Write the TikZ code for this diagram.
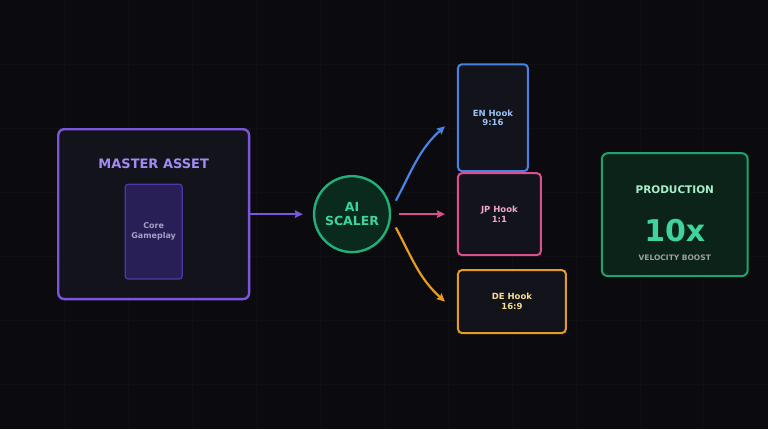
\documentclass[tikz,border=0pt]{standalone}
\usepackage{fontspec}
\setmainfont{DejaVu Sans}
\usepackage{xcolor}
\usetikzlibrary{positioning, arrows.meta}

\definecolor{bgdark}{HTML}{0B0B0F}
\definecolor{gridc}{HTML}{0F0F14}
\definecolor{panelfill}{HTML}{13131C}
\definecolor{masterpurple}{HTML}{7B55DE}
\definecolor{titlepurple}{HTML}{A48AF2}
\definecolor{corefill}{HTML}{271F55}
\definecolor{coreline}{HTML}{4F38A6}
\definecolor{coretext}{HTML}{A6A0C6}
\definecolor{scalerfill}{HTML}{0A2A1E}
\definecolor{scalergreen}{HTML}{22B07A}
\definecolor{scalertext}{HTML}{3DD59C}
\definecolor{enblue}{HTML}{4A82E0}
\definecolor{entext}{HTML}{9CC2F5}
\definecolor{jppink}{HTML}{D9508C}
\definecolor{jptext}{HTML}{F2A6CD}
\definecolor{deorange}{HTML}{E59C25}
\definecolor{detext}{HTML}{F6DE8E}
\definecolor{prodfill}{HTML}{0B2319}
\definecolor{prodline}{HTML}{1FA36E}
\definecolor{prodtitle}{HTML}{A9EFCC}
\definecolor{prodgrey}{HTML}{9AA3A0}

\begin{document}
\begin{tikzpicture}[
      x=1pt, y=-1pt,
      panel/.style={draw, rounded corners=6pt, line width=2.4pt, fill=panelfill},
      hook/.style={draw, rounded corners=4pt, line width=2pt, fill=panelfill, align=center,
        font=\fontsize{8.5}{9.5}\selectfont\bfseries},
      label/.style={font=\bfseries, inner sep=0pt},
      arr/.style={line width=2.2pt, -{Stealth[length=8pt, width=7.5pt, inset=1pt]}},
      gridline/.style={gridc, line width=0.6pt}
    ]
    % Background
    \fill[bgdark] (0,0) rectangle (768,429);
    \foreach \gx in {64,128,...,704} \draw[gridline] (\gx,0) -- (\gx,429);
    \foreach \gy in {64,128,...,384} \draw[gridline] (0,\gy) -- (768,\gy);
    \useasboundingbox (0,0) rectangle (768,429);

    % Nodes
    \node[panel, draw=masterpurple, minimum width=191pt, minimum height=170pt] (master) at (153.5,214) {};
    \node[label, text=titlepurple, font=\fontsize{13}{15}\selectfont\bfseries] (mastertitle) at (153.5,163.5) {MASTER ASSET};
    \node[draw=coreline, fill=corefill, rounded corners=3pt, line width=1.2pt, minimum width=57pt, minimum height=95pt,
      align=center, text=coretext, font=\fontsize{8}{9.5}\selectfont\bfseries] (core) at (153.5,231.5) {Core\\Gameplay};

    \node[circle, draw=scalergreen, fill=scalerfill, line width=2.4pt, minimum size=76pt, inner sep=0pt,
      align=center, text=scalertext, font=\fontsize{12.5}{14}\selectfont\bfseries] (scaler) at (352,214) {AI\\SCALER};

    \node[hook, draw=enblue, text=entext, minimum width=70pt, minimum height=107pt] (en) at (493,117.5) {EN Hook\\9:16};
    \node[hook, draw=jppink, text=jptext, minimum width=83pt, minimum height=82pt] (jp) at (499.5,214) {JP Hook\\1:1};
    \node[hook, draw=deorange, text=detext, minimum width=108pt, minimum height=63pt] (de) at (512,301.5) {DE Hook\\16:9};

    \node[panel, draw=prodline, fill=prodfill, line width=2pt, minimum width=146pt, minimum height=123pt] (prod) at (675,214.5) {};
    \node[label, text=prodtitle, font=\fontsize{10.5}{12}\selectfont\bfseries] (prodtitle) at (675,189.5) {PRODUCTION};
    \node[label, text=scalertext, font=\fontsize{30}{32}\selectfont\bfseries] (prodvalue) at (675,230) {10x};
    \node[label, text=prodgrey, font=\fontsize{7.5}{9}\selectfont\bfseries] (prodnote) at (675,257.5) {VELOCITY BOOST};

    % Edges
    \draw[arr, masterpurple, shorten >=10pt] (master.east) -- (scaler.west);
    \draw[arr, enblue] ([xshift=7pt]scaler.20) to[out=62, in=222] ([xshift=-12pt, yshift=-8.5pt]en.west);
    \draw[arr, jppink, shorten <=8pt, shorten >=12pt] (scaler.east) -- (jp.west);
    \draw[arr, deorange] ([xshift=7pt]scaler.-20) to[out=-62, in=138] ([xshift=-12pt]de.west);
  \end{tikzpicture}
\end{document}
